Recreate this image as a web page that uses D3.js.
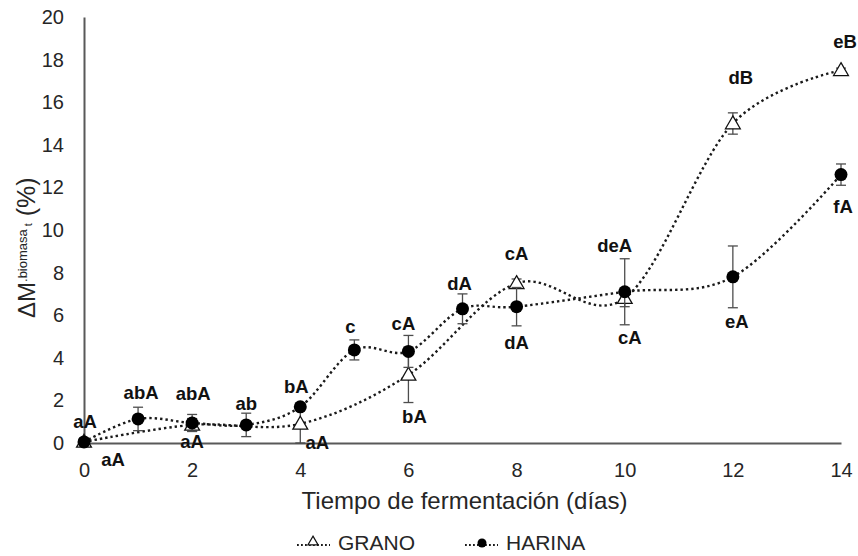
<!DOCTYPE html>
<html>
<head>
<meta charset="utf-8">
<script src="https://cdn.jsdelivr.net/npm/d3@7"></script>
<style>
  body { margin: 0; background: #fff; }
  svg { display: block; font-family: "Liberation Sans", Arial, sans-serif; }
</style>
</head>
<body>
<script>
// fermentation days
const harinaDays = [0, 1, 2, 3, 4, 5, 6, 7, 8, 10, 12, 14];
const granoDays = [0, 2, 4, 6, 8, 10, 12, 14];

// mean biomass change (%) and standard deviation
const granoMean = [0.05, 0.85, 0.9, 3.2, 7.5, 6.8, 15.0, 17.5];
const granoErr = [0.1, 0.3, 0.9, 1.3, 0.2, 0.4, 0.5, 0.1];
const harinaMean = [0.05, 1.13, 0.94, 0.85, 1.7, 4.37, 4.3, 6.3, 6.4, 7.1, 7.8, 12.6];
const harinaErr = [0.1, 0.55, 0.4, 0.55, 0.15, 0.47, 0.75, 0.7, 0.9, 1.55, 1.45, 0.5];

// significance letters
const granoLabels = ["aA", "aA", "aA", "bA", "cA", "cA", "dB", "eB"];
const harinaLabels = ["aA", "abA", "abA", "ab", "bA", "c", "cA", "dA", "dA", "deA", "eA", "fA"];

const xTicks = [0, 2, 4, 6, 8, 10, 12, 14];
const yTicks = [0, 2, 4, 6, 8, 10, 12, 14, 16, 18, 20];

// label offsets in px from the marker (layout only)
const granoLabelOffset = [[29, 24], [0, 23], [17, 25], [6, 48], [0, -23], [5, 46], [8, -40], [4, -22]];
const harinaLabelOffset = [[1, -14], [3, -20], [1, -23], [0, -15], [-4, -14], [-4, -17], [-5, -21],
    [-3, -19], [0, 42], [-10, -40], [4, 51], [2, 38]];

const width = 858, height = 556;

const svg = d3.select("body").append("svg")
    .attr("width", width)
    .attr("height", height);

const x = d3.scaleLinear().domain([0, 14]).range([84, 841]);
const y = d3.scaleLinear().domain([0, 20]).range([443, 17]);

// axes
svg.append("g")
    .attr("transform", "translate(84,0)")
    .call(d3.axisLeft(y).tickValues(yTicks).tickSize(0).tickPadding(20))
    .call(g => g.select(".domain").attr("stroke", "#595959").attr("stroke-width", 2))
    .call(g => g.selectAll("text").attr("font-size", 20).attr("fill", "#262626").attr("font-family", null));

svg.append("g")
    .attr("transform", "translate(0,443)")
    .call(d3.axisBottom(x).tickValues(xTicks).tickSize(0).tickPadding(20))
    .call(g => g.select(".domain").attr("stroke", "#595959").attr("stroke-width", 2))
    .call(g => g.selectAll("text").attr("font-size", 20).attr("fill", "#262626").attr("font-family", null));

// axis titles
svg.append("text")
    .attr("x", (x(0) + x(14)) / 2 + 2)
    .attr("y", 509)
    .attr("text-anchor", "middle")
    .attr("font-size", 24)
    .attr("fill", "#262626")
    .text("Tiempo de fermentación (días)");

const yTitle = svg.append("text")
    .attr("transform", "translate(35,318) rotate(-90)")
    .attr("fill", "#262626");
yTitle.append("tspan").attr("font-size", 24).text("ΔM");
yTitle.append("tspan").attr("font-size", 13).attr("dy", -8).text(".biomasa");
yTitle.append("tspan").attr("font-size", 11).attr("dy", 5).attr("dx", 3).text("t");
yTitle.append("tspan").attr("font-size", 25).attr("dy", 3).text(" (%)");

const grano = granoDays.map((d, i) => ({day: d, mean: granoMean[i], err: granoErr[i], label: granoLabels[i], off: granoLabelOffset[i]}));
const harina = harinaDays.map((d, i) => ({day: d, mean: harinaMean[i], err: harinaErr[i], label: harinaLabels[i], off: harinaLabelOffset[i]}));

const line = d3.line()
    .x(d => x(d.day))
    .y(d => y(d.mean))
    .curve(d3.curveCardinal.tension(0));

const dotted = sel => sel
    .attr("fill", "none")
    .attr("stroke", "#1a1a1a")
    .attr("stroke-width", 2.4)
    .attr("stroke-dasharray", "2.4,3");

svg.append("path").datum(grano).attr("d", line).call(dotted);
svg.append("path").datum(harina).attr("d", line).call(dotted);

const triangle = d3.symbol().type(d3.symbolTriangle).size(95);

function drawErrors(data) {
    const g = svg.append("g")
        .attr("stroke", "#4d4d4d")
        .attr("stroke-width", 1.3);
    g.selectAll("line.v").data(data).join("line")
        .attr("x1", d => x(d.day)).attr("x2", d => x(d.day))
        .attr("y1", d => y(d.mean - d.err)).attr("y2", d => y(d.mean + d.err));
    g.selectAll("line.top").data(data).join("line")
        .attr("x1", d => x(d.day) - 5).attr("x2", d => x(d.day) + 5)
        .attr("y1", d => y(d.mean + d.err)).attr("y2", d => y(d.mean + d.err));
    g.selectAll("line.bot").data(data).join("line")
        .attr("x1", d => x(d.day) - 5).attr("x2", d => x(d.day) + 5)
        .attr("y1", d => y(d.mean - d.err)).attr("y2", d => y(d.mean - d.err));
}

drawErrors(grano);
svg.append("g").selectAll("path").data(grano).join("path")
    .attr("transform", d => `translate(${x(d.day)},${y(d.mean) + 1})`)
    .attr("d", triangle)
    .attr("fill", "#fff")
    .attr("stroke", "#111")
    .attr("stroke-width", 1.3);

drawErrors(harina);
svg.append("g").selectAll("circle").data(harina).join("circle")
    .attr("cx", d => x(d.day))
    .attr("cy", d => y(d.mean))
    .attr("r", 6.5)
    .attr("fill", "#000");

// letters
svg.append("g")
    .attr("font-size", 18.5)
    .attr("font-weight", "bold")
    .attr("text-anchor", "middle")
    .attr("fill", "#111")
    .selectAll("text").data(grano.concat(harina)).join("text")
    .attr("x", d => x(d.day) + d.off[0])
    .attr("y", d => y(d.mean) + d.off[1])
    .text(d => d.label);

// legend
const legend = svg.append("g");
const legendItems = [
    {name: "GRANO", x0: 297, shape: "tri"},
    {name: "HARINA", x0: 465, shape: "dot"}
];
legendItems.forEach(it => {
    legend.append("line")
        .attr("x1", it.x0).attr("x2", it.x0 + 33)
        .attr("y1", 545).attr("y2", 545)
        .attr("stroke", "#1a1a1a")
        .attr("stroke-width", 1.8)
        .attr("stroke-dasharray", "1.8,2.2");
    if (it.shape === "tri") {
        legend.append("path")
            .attr("transform", `translate(${it.x0 + 16},${542})`)
            .attr("d", d3.symbol().type(d3.symbolTriangle).size(45))
            .attr("fill", "#fff")
            .attr("stroke", "#111")
            .attr("stroke-width", 1.2);
    } else {
        legend.append("circle")
            .attr("cx", it.x0 + 17).attr("cy", 543)
            .attr("r", 4.5)
            .attr("fill", "#000");
    }
    legend.append("text")
        .attr("x", it.x0 + 41)
        .attr("y", 550)
        .attr("font-size", 21)
        .attr("fill", "#262626")
        .text(it.name);
});
</script>
</body>
</html>
